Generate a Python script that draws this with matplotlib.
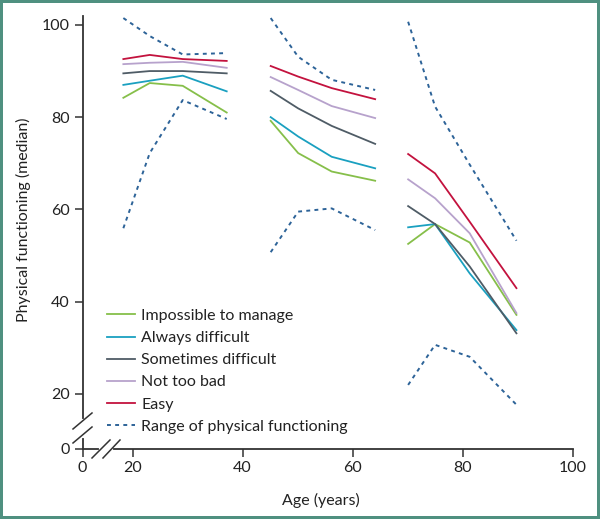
import numpy as np
import matplotlib
matplotlib.use("Agg")
import matplotlib.pyplot as plt
from matplotlib.lines import Line2D

plt.rcParams['font.family'] = ['Lato', 'DejaVu Sans']

# three age cohorts, plotted as separate line segments
ages_young = [18.3, 23.1, 29.1, 37.1]
ages_middle = [45.1, 50.1, 56.2, 64.1]
ages_old = [70.1, 75.0, 81.3, 89.8]

categories = ["Impossible to manage", "Always difficult", "Sometimes difficult",
              "Not too bad", "Easy"]

# median physical functioning, young | middle | old
impossible = [84.2, 87.4, 86.8, 81.0, 79.2, 72.2, 68.2, 66.2, 52.5, 56.8, 52.8, 37.1]
always = [87.0, 87.9, 89.0, 85.6, 80.0, 75.8, 71.4, 68.9, 56.1, 56.8, 46.1, 33.8]
sometimes = [89.5, 90.0, 90.0, 89.5, 85.7, 81.9, 78.1, 74.2, 60.7, 56.8, 47.6, 33.1]
not_too_bad = [91.5, 91.8, 92.0, 90.7, 88.7, 85.9, 82.4, 79.8, 66.5, 62.4, 54.8, 37.5]
easy = [92.6, 93.5, 92.6, 92.2, 91.1, 88.8, 86.3, 83.9, 72.0, 67.8, 57.3, 42.9]

range_upper = [101.5, 97.6, 93.6, 93.9, 101.5, 93.1, 88.1, 85.9, 100.7, 82.3, 69.7, 53.2]
range_lower = [55.9, 72.2, 83.7, 79.6, 50.7, 59.5, 60.2, 55.5, 21.9, 30.6, 28.0, 17.6]

x_ticks = [20, 40, 60, 80, 100]
y_ticks = [20, 40, 60, 80, 100]

colors = ['#86bf4a', '#1aa0c0', '#4f5c66', '#b7a2cc', '#c3123e']
range_color = '#2d6398'
axis_color = '#333333'

series = [impossible, always, sometimes, not_too_bad, easy]
groups = [ages_young, ages_middle, ages_old]

fig = plt.figure(figsize=(6, 5.19), dpi=100)
fig.patch.set_edgecolor('#4f9080')
fig.patch.set_linewidth(3)
ax = fig.add_axes([0.1375, 0.1349, 0.8167, 0.8343])

# broken axes: zero sits just outside the 20-100 range
x0 = 10.87
y0 = 8.0
ax.set_xlim(x0, 100)
ax.set_ylim(y0, 101.95)

for g, ages in enumerate(groups):
    sl = slice(4 * g, 4 * g + 4)
    for vals, c in zip(series, colors):
        ax.plot(ages, vals[sl], color=c, lw=1.3)
    for vals in (range_upper, range_lower):
        ax.plot(ages, vals[sl], color=range_color, lw=1.4, ls=(0, (2.0, 2.2)))

ax.set_xticks([x0] + x_ticks)
ax.set_xticklabels(['0'] + [str(t) for t in x_ticks])
ax.set_yticks([y0] + y_ticks)
ax.set_yticklabels(['0'] + [str(t) for t in y_ticks])
ax.tick_params(direction='out', length=6, width=1.1, color=axis_color,
               labelsize=11.5, labelcolor='#222222', pad=3)

for s in ['top', 'right']:
    ax.spines[s].set_visible(False)
for s in ['left', 'bottom']:
    ax.spines[s].set_color(axis_color)
    ax.spines[s].set_linewidth(1.3)

ax.set_xlabel('Age (years)', fontsize=11.5, color='#222222', labelpad=10)
ax.xaxis.set_label_coords(0.486, -0.102)
ax.set_ylabel('Physical functioning (median)', fontsize=11.5, color='#222222')
ax.yaxis.set_label_coords(-0.105, 0.53)

# axis break marks (axes-fraction coordinates)
def px(x, y):
    return ((x - 82.5) / 490.0, (449 - y) / 433.0)

kw = dict(transform=ax.transAxes, clip_on=False, zorder=5)
a, b = px(82.5, 421), px(82.5, 436)
ax.add_line(Line2D([a[0], b[0]], [a[1], b[1]], color='white', lw=3, **kw))
a, b = px(100.5, 449), px(111, 449)
ax.add_line(Line2D([a[0], b[0]], [a[1], b[1]], color='white', lw=3, **kw))
for (xa, ya, xb, yb) in [(73, 429, 92, 413), (73, 443, 92, 427),
                         (92, 458, 110, 440), (103, 458, 120, 440)]:
    a, b = px(xa, ya), px(xb, yb)
    ax.add_line(Line2D([a[0], b[0]], [a[1], b[1]], color=axis_color, lw=1.1, **kw))

handles = [Line2D([], [], color=c, lw=1.3) for c in colors]
handles.append(Line2D([], [], color=range_color, lw=1.4, ls=(0, (2.0, 2.2))))
labels = categories + ["Range of physical functioning"]
ax.legend(handles, labels, loc='lower left', bbox_to_anchor=(0.05, 0.035),
          frameon=False, fontsize=11.5, handlelength=1.75, handletextpad=0.4,
          labelspacing=0.5, borderpad=0, borderaxespad=0, labelcolor='#222222')

fig.savefig('out.png', dpi=100)
